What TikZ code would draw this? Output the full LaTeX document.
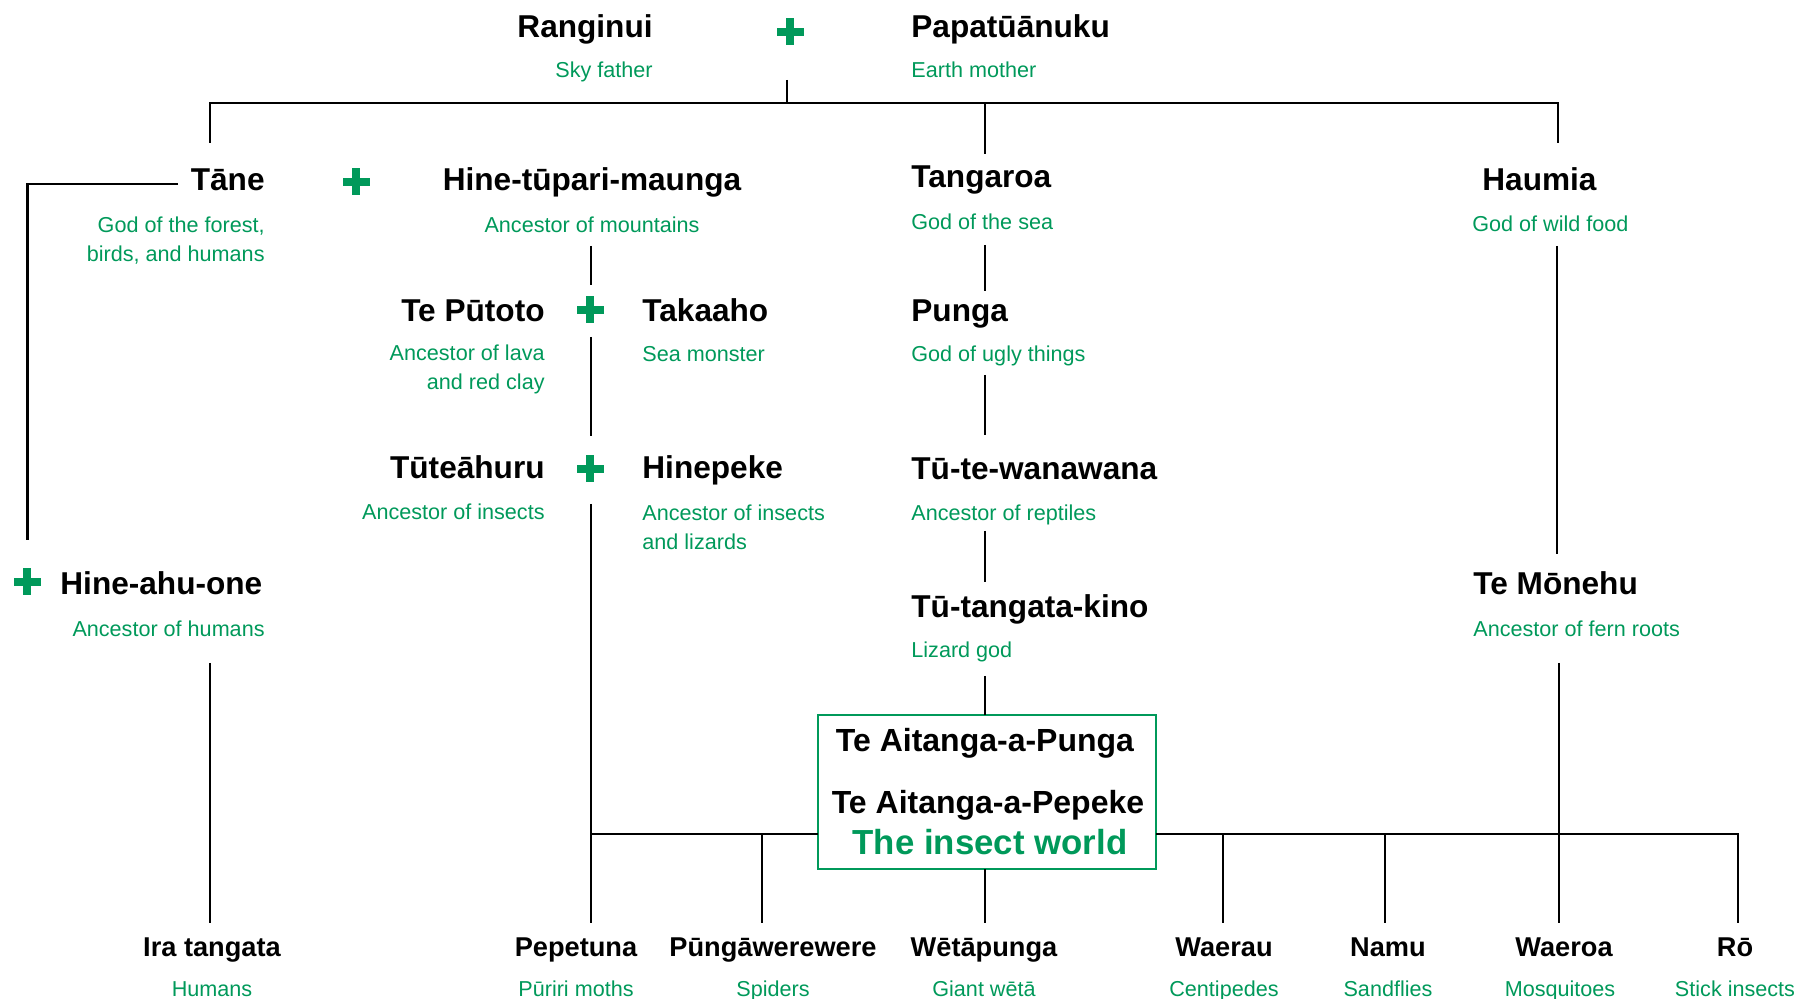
\documentclass[tikz,border=0pt]{standalone}
\usepackage{fontspec}
\setmainfont{Liberation Sans}
\definecolor{mgreen}{HTML}{00995A}
\begin{document}
\begin{tikzpicture}[x=0.5pt,y=-0.5pt,
  mname/.style={font=\bfseries\fontsize{15.8}{18}\selectfont, inner sep=0pt},
  bname/.style={font=\bfseries\fontsize{13.6}{16}\selectfont, inner sep=0pt},
  msub/.style={font=\fontsize{10.8}{14.6}\selectfont, text=mgreen, inner sep=0pt},
  boxname/.style={font=\bfseries\fontsize{16}{19}\selectfont, inner sep=0pt},
  conn/.style={line width=1.3pt, black},
  plussign/.pic={\fill[mgreen] (-13.5,-4) rectangle (13.5,4); \fill[mgreen] (-4,-13.5) rectangle (4,13.5);}
]
\useasboundingbox (0,0) rectangle (1800,999);

% top couple
\node[mname, anchor=base east] (ranginui) at (653,38) {Ranginui};
\node[msub, anchor=base east] (skyfather) at (653,78) {Sky father};
\pic (p1) at (790,32) {plussign};
\node[mname, anchor=base west] (papa) at (911,38) {Papatūānuku};
\node[msub, anchor=base west] (earthmother) at (911,78) {Earth mother};

% second row
\node[mname, anchor=base east] (tane) at (265,191) {Tāne};
\node[msub, anchor=base east, align=right] (tanesub) at (265,262) {God of the forest,\\birds, and humans};
\pic (p2) at (356,182) {plussign};
\node[mname, anchor=base] (hinetupari) at (592,191) {Hine-tūpari-maunga};
\node[msub, anchor=base] (hinetuparisub) at (592,233) {Ancestor of mountains};
\node[mname, anchor=base west] (tangaroa) at (911,188) {Tangaroa};
\node[msub, anchor=base west] (tangaroasub) at (911,230) {God of the sea};
\node[mname, anchor=base west] (haumia) at (1482,191) {Haumia};
\node[msub, anchor=base west] (haumiasub) at (1472,232) {God of wild food};

% third row
\node[mname, anchor=base east] (teputoto) at (545,322) {Te Pūtoto};
\node[msub, anchor=base east, align=right] (teputotosub) at (545,390) {Ancestor of lava\\and red clay};
\pic (p3) at (590,310) {plussign};
\node[mname, anchor=base west] (takaaho) at (642,322) {Takaaho};
\node[msub, anchor=base west] (takaahosub) at (642,362) {Sea monster};
\node[mname, anchor=base west] (punga) at (911,322) {Punga};
\node[msub, anchor=base west] (pungasub) at (911,362) {God of ugly things};

% fourth row
\node[mname, anchor=base east] (tuteahuru) at (545,479) {Tūteāhuru};
\node[msub, anchor=base east] (tuteahurusub) at (545,520) {Ancestor of insects};
\pic (p4) at (590,469) {plussign};
\node[mname, anchor=base west] (hinepeke) at (642,479) {Hinepeke};
\node[msub, anchor=base west, align=left] (hinepekesub) at (642,550) {Ancestor of insects\\and lizards};
\node[mname, anchor=base west] (tutewana) at (911,480) {Tū-te-wanawana};
\node[msub, anchor=base west] (tutewanasub) at (911,521) {Ancestor of reptiles};

% fifth row
\pic (p5) at (27,582) {plussign};
\node[mname, anchor=base west] (hineahuone) at (60,595) {Hine-ahu-one};
\node[msub, anchor=base east] (hineahuonesub) at (265,637) {Ancestor of humans};
\node[mname, anchor=base west] (tutangata) at (911,618) {Tū-tangata-kino};
\node[msub, anchor=base west] (tutangatasub) at (911,658) {Lizard god};
\node[mname, anchor=base west] (temonehu) at (1473,595) {Te Mōnehu};
\node[msub, anchor=base west] (temonehusub) at (1473,637) {Ancestor of fern roots};

% central box
\draw[mgreen, line width=1pt] (818,715) rectangle (1156,869);
\coordinate (boxtop) at (985,715);
\coordinate (boxbot) at (985,869);
\coordinate (boxleft) at (818,834);
\coordinate (boxright) at (1156,834);
\node[boxname, anchor=base] (punga2) at (985,752) {Te Aitanga-a-Punga};
\node[boxname, anchor=base] (pepeke) at (988,813) {Te Aitanga-a-Pepeke};
\node[boxname, anchor=base, text=mgreen, font=\bfseries\fontsize{17.4}{20}\selectfont] (insect) at (990,854) {The insect world};

% bottom row
\foreach \id/\x/\nm/\sb/\sx in {ira/212/Ira tangata/Humans/212,
  pepetuna/576/Pepetuna/Pūriri moths/576,
  punga3/773/Pūngāwerewere/Spiders/773,
  weta/984/Wētāpunga/Giant wētā/984,
  waerau/1224/Waerau/Centipedes/1224,
  namu/1388/Namu/Sandflies/1388,
  waeroa/1564/Waeroa/Mosquitoes/1560,
  ro/1735/Rō/Stick insects/1735}{
  \node[bname, anchor=base] (\id) at (\x,956) {\nm};
  \node[msub, anchor=base] (\id sub) at (\sx,996) {\sb};
}

% connector coordinates
\coordinate (c1a) at (787,80);  \coordinate (c1b) at (787,103);
\coordinate (hl) at (210,103);  \coordinate (hr) at (1558,103);
\coordinate (taneTop) at (210,143);
\coordinate (tangTop) at (985,103); \coordinate (tangEnd) at (985,154);
\coordinate (haumTop) at (1558,143);
\coordinate (taneL) at (178,184); \coordinate (taneC) at (27.5,184); \coordinate (taneD) at (27.5,540);
\coordinate (m1) at (591,246); \coordinate (m2) at (591,285);
\coordinate (s1) at (985,245); \coordinate (s2) at (985,291);
\coordinate (h1) at (1557,246); \coordinate (h2) at (1557,554);
\coordinate (pt1) at (591,337); \coordinate (pt2) at (591,436);
\coordinate (pu1) at (985,375); \coordinate (pu2) at (985,435);
\coordinate (ti1) at (591,504); \coordinate (ti2) at (591,923); \coordinate (ti3) at (591,834);
\coordinate (tw1) at (985,531); \coordinate (tw2) at (985,582);
\coordinate (tk1) at (985,676);
\coordinate (ha1) at (210,663); \coordinate (ha2) at (210,923);
\coordinate (mo1) at (1559,663); \coordinate (mo2) at (1559,923); \coordinate (mo3) at (1559,834);
\coordinate (bw) at (985,923);
\coordinate (k1) at (762,834); \coordinate (k1b) at (762,923);
\coordinate (k2) at (1223,834); \coordinate (k2b) at (1223,923);
\coordinate (k3) at (1385,834); \coordinate (k3b) at (1385,923);
\coordinate (k4) at (1738,834); \coordinate (k4b) at (1738,923);

\draw[conn] (c1a) -- (c1b);
\draw[conn] (taneTop) -- (hl) -- (hr) -- (haumTop);
\draw[conn] (tangTop) -- (tangEnd);
\draw[conn] (taneL) -- (taneC) -- (taneD);
\draw[conn] (m1) -- (m2);
\draw[conn] (s1) -- (s2);
\draw[conn] (h1) -- (h2);
\draw[conn] (pt1) -- (pt2);
\draw[conn] (pu1) -- (pu2);
\draw[conn] (ti1) -- (ti2);
\draw[conn] (tw1) -- (tw2);
\draw[conn] (tk1) -- (boxtop);
\draw[conn] (ha1) -- (ha2);
\draw[conn] (mo1) -- (mo2);
\draw[conn] (boxbot) -- (bw);
\draw[conn] (ti3) -- (boxleft);
\draw[conn] (boxright) -- (k4) -- (k4b);
\draw[conn] (k1) -- (k1b);
\draw[conn] (k2) -- (k2b);
\draw[conn] (k3) -- (k3b);
\end{tikzpicture}
\end{document}
